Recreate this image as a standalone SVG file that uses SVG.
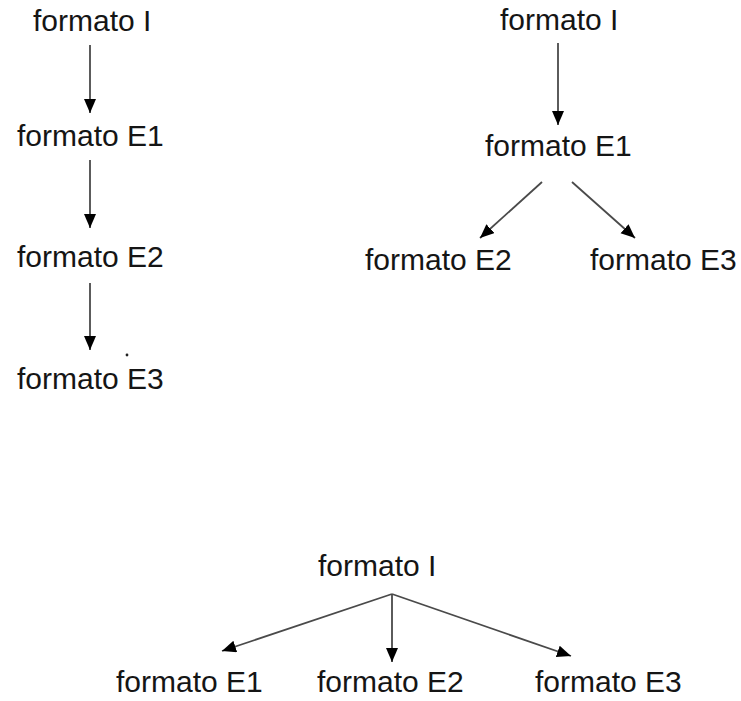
<svg xmlns="http://www.w3.org/2000/svg" width="741" height="701" viewBox="0 0 741 701">
<style>
  .lbl { font-family: "Liberation Sans", Arial, sans-serif; font-size: 30px; fill: #151515; }
  .edge { stroke: #4a4a4a; stroke-width: 1.8; fill: none; marker-end: url(#arr); }
</style>
<defs>
  <marker id="arr" markerUnits="userSpaceOnUse" markerWidth="16" markerHeight="14" refX="14" refY="6" orient="auto">
    <path d="M0,0 L14,6 L0,12 z" fill="#000"/>
  </marker>
</defs>
<rect width="741" height="701" fill="#fff"/>
<g id="connectors">
  <line class="edge" x1="90" y1="45" x2="90" y2="113"/>
  <line class="edge" x1="90" y1="160" x2="90" y2="228"/>
  <line class="edge" x1="90" y1="283" x2="90" y2="350"/>
  <line class="edge" x1="558" y1="43" x2="558" y2="125"/>
  <line class="edge" x1="542" y1="182" x2="480" y2="238"/>
  <line class="edge" x1="572" y1="182" x2="635" y2="238"/>
  <line class="edge" x1="392" y1="594" x2="222" y2="651"/>
  <line class="edge" x1="392" y1="594" x2="392" y2="662"/>
  <line class="edge" x1="392" y1="594" x2="571" y2="656"/>
</g>
<circle cx="127" cy="355" r="1.4" fill="#222"/>
<g id="a_I"><text class="lbl" x="33" y="31">formato I</text></g>
<g id="a_E1"><text class="lbl" x="17" y="146">formato E1</text></g>
<g id="a_E2"><text class="lbl" x="17" y="267">formato E2</text></g>
<g id="a_E3"><text class="lbl" x="17" y="389">formato E3</text></g>
<g id="b_I"><text class="lbl" x="500" y="30">formato I</text></g>
<g id="b_E1"><text class="lbl" x="485" y="156">formato E1</text></g>
<g id="b_E2"><text class="lbl" x="365" y="270">formato E2</text></g>
<g id="b_E3"><text class="lbl" x="590" y="270">formato E3</text></g>
<g id="c_I"><text class="lbl" x="318" y="576">formato I</text></g>
<g id="c_E1"><text class="lbl" x="116" y="692">formato E1</text></g>
<g id="c_E2"><text class="lbl" x="317" y="692">formato E2</text></g>
<g id="c_E3"><text class="lbl" x="535" y="692">formato E3</text></g>
</svg>
